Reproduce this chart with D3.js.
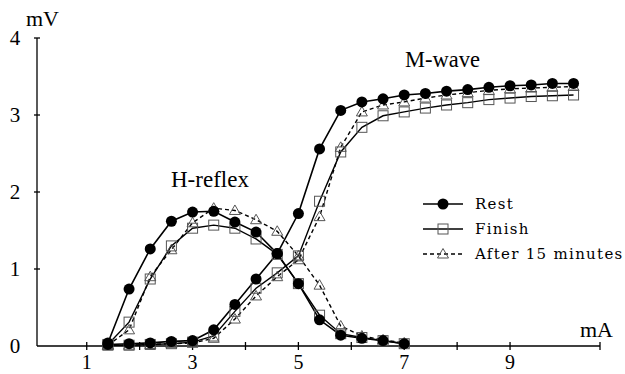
<!DOCTYPE html>
<html>
<head>
<meta charset="utf-8">
<script src="https://cdn.jsdelivr.net/npm/d3@7"></script>
<style>
  body { margin: 0; background: #fff; }
</style>
</head>
<body>
<div id="container"></div>
<script>
/* Data: stimulus current (mA) and amplitude (mV) */
var hCurrent = [1.4, 1.8, 2.2, 2.6, 3.0, 3.4, 3.8, 4.2, 4.6, 5.0, 5.4, 5.8, 6.2, 6.6, 7.0];
var mCurrent = [1.4, 1.8, 2.2, 2.6, 3.0, 3.4, 3.8, 4.2, 4.6, 5.0, 5.4, 5.8, 6.2, 6.6, 7.0, 7.4, 7.8, 8.2, 8.6, 9.0, 9.4, 9.8, 10.2];

var restH   = [0.04, 0.74, 1.26, 1.62, 1.74, 1.75, 1.61, 1.48, 1.20, 0.81, 0.34, 0.14, 0.10, 0.07, 0.03];
var finishH = [0.02, 0.31, 0.87, 1.30, 1.53, 1.57, 1.53, 1.39, 1.19, 0.81, 0.40, 0.16, 0.11, 0.07, 0.03];
var afterH  = [0.01, 0.21, 0.90, 1.25, 1.60, 1.79, 1.76, 1.64, 1.49, 1.17, 0.79, 0.26, 0.13, 0.08, 0.04];

var restM   = [0.02, 0.03, 0.04, 0.06, 0.07, 0.21, 0.54, 0.87, 1.20, 1.72, 2.56, 3.06, 3.17, 3.21, 3.26, 3.28, 3.31, 3.33, 3.36, 3.38, 3.39, 3.41, 3.41];
var finishM = [0.01, 0.01, 0.02, 0.03, 0.05, 0.13, 0.45, 0.75, 0.95, 1.17, 1.88, 2.52, 2.84, 2.99, 3.04, 3.09, 3.13, 3.16, 3.20, 3.22, 3.24, 3.25, 3.26];
var afterM  = [0.01, 0.01, 0.02, 0.03, 0.04, 0.10, 0.35, 0.65, 0.90, 1.12, 1.68, 2.58, 3.04, 3.13, 3.17, 3.22, 3.26, 3.29, 3.32, 3.34, 3.35, 3.36, 3.37];

var xTicks = [1, 2, 3, 4, 5, 6, 7, 8, 9];
var xTickLabels = [1, 3, 5, 7, 9];
var yTicks = [0, 1, 2, 3, 4];
var seriesNames = ["Rest", "Finish", "After 15 minutes"];

var w = 625, h = 374;
var serif = "Liberation Serif, DejaVu Serif, serif";

var svg = d3.select("#container").append("svg")
    .attr("width", w)
    .attr("height", h);

/* Scales */
var xScale = d3.scaleLinear().domain([0.06, 10.7]).range([37, 600]),
    yScale = d3.scaleLinear().domain([0, 4]).range([346, 38]);

/* Axes */
var axisG = svg.append("g").attr("stroke", "#000").attr("stroke-width", 1.3);

axisG.append("line")
    .attr("x1", xScale(0.06)).attr("x2", xScale(10.7))
    .attr("y1", yScale(0)).attr("y2", yScale(0));
axisG.append("line")
    .attr("x1", xScale(0.06)).attr("x2", xScale(0.06))
    .attr("y1", yScale(0)).attr("y2", yScale(4));

axisG.selectAll(".xtick").data(xTicks).enter().append("line")
    .attr("x1", d => xScale(d)).attr("x2", d => xScale(d))
    .attr("y1", yScale(0) - 4).attr("y2", yScale(0) + 4);
// end cap on x axis
axisG.append("line")
    .attr("x1", xScale(10.7)).attr("x2", xScale(10.7))
    .attr("y1", yScale(0) - 4).attr("y2", yScale(0) + 4);

axisG.selectAll(".ytick").data(yTicks.slice(1)).enter().append("line")
    .attr("x1", xScale(0.06) - 3).attr("x2", xScale(0.06) + 3)
    .attr("y1", d => yScale(d)).attr("y2", d => yScale(d));

svg.selectAll(".xlabel").data(xTickLabels).enter().append("text")
    .attr("x", d => xScale(d))
    .attr("y", 369)
    .attr("text-anchor", "middle")
    .style("font-family", serif)
    .style("font-size", "20px")
    .text(d => d);

svg.selectAll(".ylabel").data(yTicks).enter().append("text")
    .attr("x", 15)
    .attr("y", d => yScale(d) + 7)
    .attr("text-anchor", "middle")
    .style("font-family", serif)
    .style("font-size", "21px")
    .text(d => d);

svg.append("text").attr("x", 26).attr("y", 26).style("font-family", serif).style("font-size", "22px").text("mV");
svg.append("text").attr("x", 580).attr("y", 337).style("font-family", serif).style("font-size", "22px").text("mA");

svg.append("text").attr("x", 171).attr("y", 187).style("font-family", serif).style("font-size", "23px").text("H-reflex");
svg.append("text").attr("x", 405).attr("y", 67).style("font-family", serif).style("font-size", "22.5px").text("M-wave");

/* Lines */
function lineFor(xs) {
    return d3.line()
        .x((d, i) => xScale(xs[i]))
        .y(d => yScale(d));
}

var series = [
    { vals: finishH, xs: hCurrent, kind: "finish" },
    { vals: finishM, xs: mCurrent, kind: "finish" },
    { vals: afterH,  xs: hCurrent, kind: "after" },
    { vals: afterM,  xs: mCurrent, kind: "after" },
    { vals: restH,   xs: hCurrent, kind: "rest" },
    { vals: restM,   xs: mCurrent, kind: "rest" }
];

series.forEach(function(s) {
    svg.append("path")
        .attr("d", lineFor(s.xs)(s.vals))
        .attr("fill", "none")
        .attr("stroke", "#000")
        .attr("stroke-width", s.kind == "rest" ? 1.6 : 1.4)
        .attr("stroke-dasharray", s.kind == "after" ? "4,3" : null);
});

/* Markers */
function drawMarker(g, kind, cx, cy) {
    if (kind == "rest") {
        g.append("circle").attr("cx", cx).attr("cy", cy).attr("r", 5.5).attr("fill", "#000");
    } else if (kind == "finish") {
        g.append("rect").attr("x", cx - 5).attr("y", cy - 5)
            .attr("width", 10).attr("height", 10)
            .attr("fill", "none").attr("stroke", "#555").attr("stroke-width", 1);
    } else {
        var p = d3.path();
        p.moveTo(cx, cy - 5.5);
        p.lineTo(cx + 5.5, cy + 4);
        p.lineTo(cx - 5.5, cy + 4);
        p.closePath();
        g.append("path").attr("d", p.toString())
            .attr("fill", "none").attr("stroke", "#555").attr("stroke-width", 1);
    }
}

var markG = svg.append("g");
["finish", "after", "rest"].forEach(function(kind) {
    series.filter(s => s.kind == kind).forEach(function(s) {
        s.vals.forEach(function(v, i) {
            drawMarker(markG, kind, xScale(s.xs[i]), yScale(v));
        });
    });
});

/* Legend */
var legend = svg.append("g");
var legendKinds = ["rest", "finish", "after"];
var legendY = [204, 229, 254];

legendKinds.forEach(function(kind, i) {
    var y = legendY[i];
    legend.append("line")
        .attr("x1", 423).attr("x2", 463)
        .attr("y1", y).attr("y2", y)
        .attr("stroke", "#000")
        .attr("stroke-width", 1.4)
        .attr("stroke-dasharray", kind == "after" ? "4,3" : null);
    drawMarker(legend, kind, 443, y);
    legend.append("text")
        .attr("x", 475)
        .attr("y", y + 5)
        .style("font-family", "DejaVu Serif, serif")
        .style("font-size", "15px")
        .style("letter-spacing", "1.3px")
        .text(seriesNames[i]);
});
</script>
</body>
</html>
